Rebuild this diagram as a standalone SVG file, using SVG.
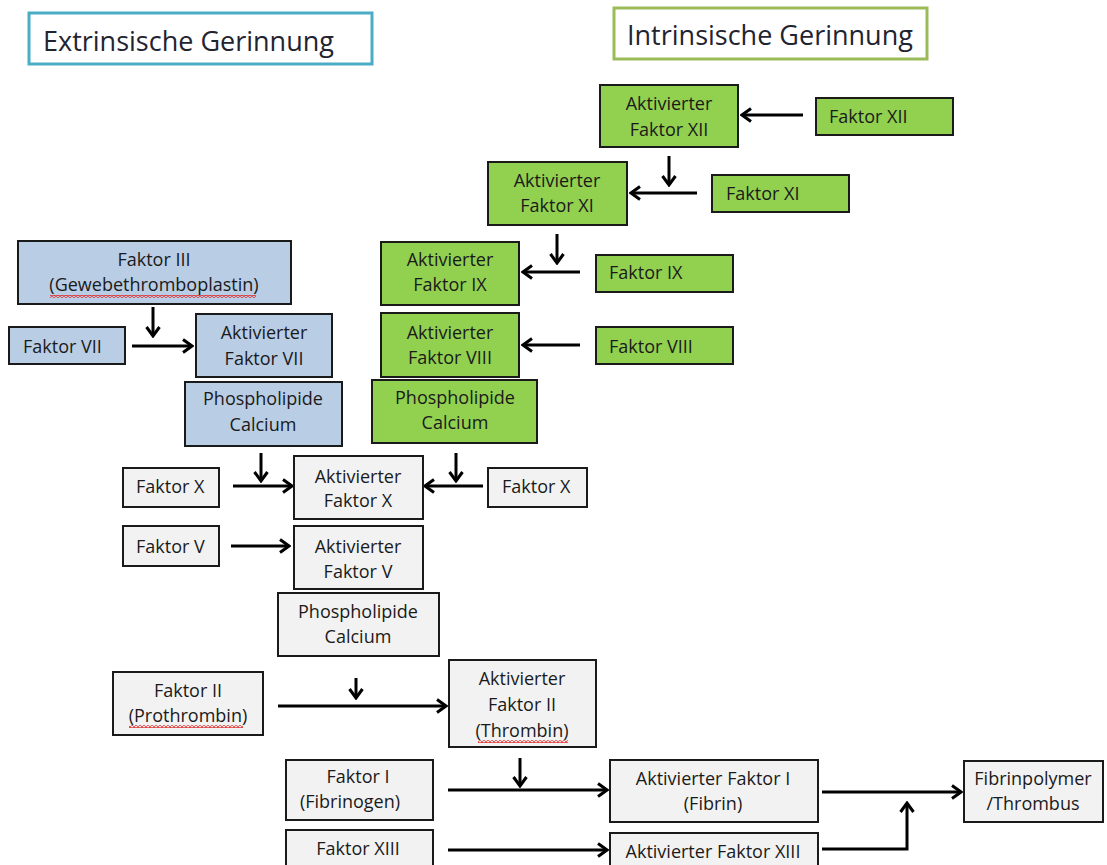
<svg xmlns="http://www.w3.org/2000/svg" width="1107" height="865" viewBox="0 0 1107 865">
<defs>
<style>
.t{font-family:"Open Sans","Liberation Sans",sans-serif;font-size:18px;fill:#1a1a1a;text-anchor:middle;dominant-baseline:central}
.l{text-anchor:start}
.title{font-family:"Open Sans","Liberation Sans",sans-serif;font-size:27px;fill:#1f2430;dominant-baseline:central}
.g rect{fill:#92d050;stroke:#1a1a1a;stroke-width:2}
.b rect{fill:#b9cde5;stroke:#1a1a1a;stroke-width:2}
.w rect{fill:#f2f2f2;stroke:#1a1a1a;stroke-width:2}
.c path{fill:none;stroke:#000;stroke-width:3;marker-end:url(#ah)}
</style>
<marker id="ah" viewBox="0 0 14 16" refX="12" refY="8" markerWidth="14" markerHeight="16" markerUnits="userSpaceOnUse" orient="auto">
<path d="M3,1.5 L12,8 L3,14.5" fill="none" stroke="#000" stroke-width="3" stroke-linejoin="miter"/>
</marker>
<pattern id="wavy" width="4" height="3" patternUnits="userSpaceOnUse">
<path d="M0,2.5 L2,0.5 L4,2.5" fill="none" stroke="#e03030" stroke-width="1.1"/>
</pattern>
</defs>
<rect width="1107" height="865" fill="#fff"/>

<g id="title-extrinsic">
<rect x="29" y="13" width="343" height="51" fill="#fff" stroke="#4bacc6" stroke-width="3"/>
<text class="title" x="43" y="40">Extrinsische Gerinnung</text>
</g>
<g id="title-intrinsic">
<rect x="614" y="8" width="313" height="51" fill="#fff" stroke="#9bbb59" stroke-width="3"/>
<text class="title" x="627" y="34">Intrinsische Gerinnung</text>
</g>

<g id="connectors" class="c">
<path d="M803,115 L742,115"/>
<path d="M669,156 L669,185"/>
<path d="M697,193 L631,193"/>
<path d="M557,234 L557,263"/>
<path d="M580,272 L523,272"/>
<path d="M580,345 L523,345"/>
<path d="M153,307 L153,336"/>
<path d="M132,346 L192,346"/>
<path d="M261,453 L261,481"/>
<path d="M233,486 L292,486"/>
<path d="M456,453 L456,481"/>
<path d="M483,486 L425,486"/>
<path d="M231,546 L289,546"/>
<path d="M356,678 L356,698"/>
<path d="M278,706 L446,706"/>
<path d="M520,758 L520,786"/>
<path d="M448,790 L607,790"/>
<path d="M448,850 L607,850"/>
<path d="M822,792 L961,792"/>
<path d="M822,849 L907,849 L907,803"/>
</g>

<g id="akt-xii" class="g"><rect x="600" y="85" width="138" height="62"/><text class="t" x="669" y="103">Aktivierter</text><text class="t" x="669" y="129">Faktor XII</text></g>
<g id="faktor-xii" class="g"><rect x="816" y="98" width="137" height="37"/><text class="t l" x="829" y="116">Faktor XII</text></g>
<g id="akt-xi" class="g"><rect x="488" y="162" width="139" height="63"/><text class="t" x="557" y="180">Aktivierter</text><text class="t" x="557" y="205">Faktor XI</text></g>
<g id="faktor-xi" class="g"><rect x="712" y="175" width="137" height="37"/><text class="t l" x="726" y="193">Faktor XI</text></g>
<g id="akt-ix" class="g"><rect x="381" y="242" width="138" height="63"/><text class="t" x="450" y="259">Aktivierter</text><text class="t" x="450" y="284">Faktor IX</text></g>
<g id="faktor-ix" class="g"><rect x="596" y="255" width="137" height="37"/><text class="t l" x="609" y="272">Faktor IX</text></g>
<g id="akt-viii" class="g"><rect x="381" y="313" width="138" height="64"/><text class="t" x="450" y="332">Aktivierter</text><text class="t" x="450" y="357">Faktor VIII</text></g>
<g id="faktor-viii" class="g"><rect x="596" y="327" width="137" height="37"/><text class="t l" x="609" y="346">Faktor VIII</text></g>
<g id="phos-intr" class="g"><rect x="372" y="380" width="165" height="63"/><text class="t" x="455" y="397">Phospholipide</text><text class="t" x="455" y="422">Calcium</text></g>

<g id="faktor-iii" class="b"><rect x="18" y="241" width="273" height="63"/><text class="t" x="154" y="259">Faktor III</text><text class="t" x="154" y="284">(Gewebethromboplastin)</text><rect x="50" y="295" width="206" height="3" style="stroke:none;fill:url(#wavy)"/></g>
<g id="faktor-vii" class="b"><rect x="9" y="327" width="116" height="37"/><text class="t l" x="23" y="346">Faktor VII</text></g>
<g id="akt-vii" class="b"><rect x="196" y="314" width="136" height="63"/><text class="t" x="264" y="332">Aktivierter</text><text class="t" x="264" y="358">Faktor VII</text></g>
<g id="phos-extr" class="b"><rect x="185" y="382" width="157" height="64"/><text class="t" x="263" y="398">Phospholipide</text><text class="t" x="263" y="424">Calcium</text></g>

<g id="faktor-x-left" class="w"><rect x="123" y="468" width="96" height="39"/><text class="t l" x="136" y="486">Faktor X</text></g>
<g id="akt-x" class="w"><rect x="294" y="456" width="129" height="63"/><text class="t" x="358" y="476">Aktivierter</text><text class="t" x="358" y="500">Faktor X</text></g>
<g id="faktor-x-right" class="w"><rect x="488" y="468" width="99" height="39"/><text class="t l" x="502" y="486">Faktor X</text></g>
<g id="faktor-v" class="w"><rect x="123" y="526" width="96" height="40"/><text class="t l" x="136" y="546">Faktor V</text></g>
<g id="akt-v" class="w"><rect x="294" y="526" width="129" height="63"/><text class="t" x="358" y="546">Aktivierter</text><text class="t" x="358" y="571">Faktor V</text></g>
<g id="phos-common" class="w"><rect x="278" y="593" width="161" height="63"/><text class="t" x="358" y="611">Phospholipide</text><text class="t" x="358" y="636">Calcium</text></g>
<g id="faktor-ii" class="w"><rect x="113" y="672" width="150" height="63"/><text class="t" x="188" y="690">Faktor II</text><text class="t" x="188" y="715">(Prothrombin)</text><rect x="129" y="725" width="114" height="3" style="stroke:none;fill:url(#wavy)"/></g>
<g id="akt-ii" class="w"><rect x="449" y="660" width="147" height="87"/><text class="t" x="522" y="678">Aktivierter</text><text class="t" x="522" y="704">Faktor II</text><text class="t" x="522" y="730">(Thrombin)</text><rect x="478" y="740" width="90" height="3" style="stroke:none;fill:url(#wavy)"/></g>
<g id="faktor-i" class="w"><rect x="286" y="760" width="147" height="60"/><text class="t" x="358" y="776">Faktor I</text><text class="t" x="350" y="801">(Fibrinogen)</text></g>
<g id="akt-i" class="w"><rect x="610" y="760" width="208" height="62"/><text class="t" x="713" y="778">Aktivierter Faktor I</text><text class="t" x="713" y="803">(Fibrin)</text></g>
<g id="faktor-xiii" class="w"><rect x="286" y="830" width="147" height="45"/><text class="t" x="358" y="848">Faktor XIII</text></g>
<g id="akt-xiii" class="w"><rect x="610" y="833" width="208" height="45"/><text class="t" x="713" y="851">Aktivierter Faktor XIII</text></g>
<g id="fibrinpolymer" class="w"><rect x="964" y="761" width="139" height="61"/><text class="t" x="1033" y="778">Fibrinpolymer</text><text class="t" x="1033" y="803">/Thrombus</text></g>
</svg>
